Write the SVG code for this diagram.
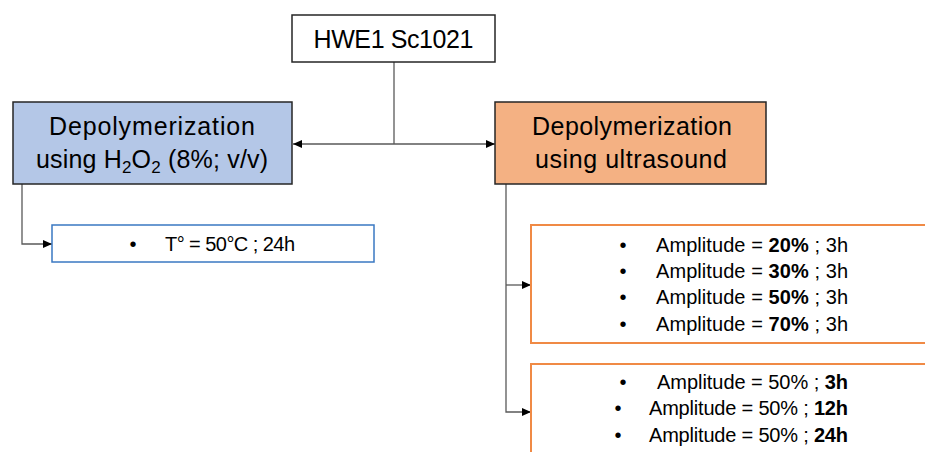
<svg xmlns="http://www.w3.org/2000/svg" width="925" height="452" viewBox="0 0 925 452">
<style>
text{font-family:"Liberation Sans",Arial,sans-serif;fill:#000}
.h{font-size:25px}
.s{font-size:20px}
.b{font-weight:bold}
.ln{fill:none;stroke:#595959;stroke-width:1.3}
.node{stroke:#262626;stroke-width:1.5}
.ob{fill:#fff;stroke:#F08A45;stroke-width:2}
</style>
<defs>
<marker id="arr" markerUnits="userSpaceOnUse" markerWidth="9" markerHeight="8" refX="9" refY="4" orient="auto">
<path d="M0,0 L9,4 L0,8 z" fill="#000"/>
</marker>
</defs>
<rect width="925" height="452" fill="#fff"/>
<g id="connectors">
<path class="ln" d="M394,62 V144"/>
<path class="ln" d="M394,144 H293" marker-end="url(#arr)"/>
<path class="ln" d="M394,144 H495" marker-end="url(#arr)"/>
<path class="ln" d="M22,184 V244 H52" marker-end="url(#arr)"/>
<path class="ln" d="M506,184 V412 H531" marker-end="url(#arr)"/>
<path class="ln" d="M506,285 H531" marker-end="url(#arr)"/>
</g>
<g id="root">
<rect class="node" x="292" y="15" width="203" height="47" fill="#fff"/>
<text class="h" x="393.5" y="47.5" text-anchor="middle" textLength="160">HWE1 Sc1021</text>
</g>
<g id="h2o2">
<rect class="node" x="13" y="102" width="279" height="82" fill="#B4C7E7"/>
<text class="h" x="152" y="135" text-anchor="middle" textLength="206">Depolymerization</text>
<text class="h" x="152" y="168" text-anchor="middle" textLength="232">using H<tspan dy="5" font-size="17">2</tspan><tspan dy="-5">O</tspan><tspan dy="5" font-size="17">2</tspan><tspan dy="-5"> (8%; v/v)</tspan></text>
</g>
<g id="ultrasound">
<rect class="node" x="495" y="102" width="271" height="82" fill="#F4B183"/>
<text class="h" x="632" y="135" text-anchor="middle" textLength="200">Depolymerization</text>
<text class="h" x="631" y="168" text-anchor="middle" textLength="192">using ultrasound</text>
</g>
<g id="h2o2-cond">
<rect x="52" y="225" width="322" height="37" fill="#fff" stroke="#3A78C2" stroke-width="1.5"/>
<text class="s" x="133" y="251" text-anchor="middle">•</text>
<text class="s" x="165" y="251" textLength="130">T° = 50°C ; 24h</text>
</g>
<g id="amplitude">
<rect class="ob" x="531" y="225" width="400" height="118"/>
<text class="s" x="623" y="252" text-anchor="middle">•</text>
<text class="s" x="656" y="252" textLength="192">Amplitude = <tspan class="b">20%</tspan> ; 3h</text>
<text class="s" x="623" y="278" text-anchor="middle">•</text>
<text class="s" x="656" y="278" textLength="192">Amplitude = <tspan class="b">30%</tspan> ; 3h</text>
<text class="s" x="623" y="304" text-anchor="middle">•</text>
<text class="s" x="656" y="304" textLength="192">Amplitude = <tspan class="b">50%</tspan> ; 3h</text>
<text class="s" x="623" y="331" text-anchor="middle">•</text>
<text class="s" x="656" y="331" textLength="192">Amplitude = <tspan class="b">70%</tspan> ; 3h</text>
</g>
<g id="time">
<rect class="ob" x="531" y="364" width="400" height="100"/>
<text class="s" x="623" y="389" text-anchor="middle">•</text>
<text class="s" x="657" y="389" textLength="191">Amplitude = 50% ; <tspan class="b">3h</tspan></text>
<text class="s" x="618" y="415" text-anchor="middle">•</text>
<text class="s" x="649" y="415" textLength="199">Amplitude = 50% ; <tspan class="b">12h</tspan></text>
<text class="s" x="618" y="442" text-anchor="middle">•</text>
<text class="s" x="649" y="442" textLength="199">Amplitude = 50% ; <tspan class="b">24h</tspan></text>
</g>
</svg>
